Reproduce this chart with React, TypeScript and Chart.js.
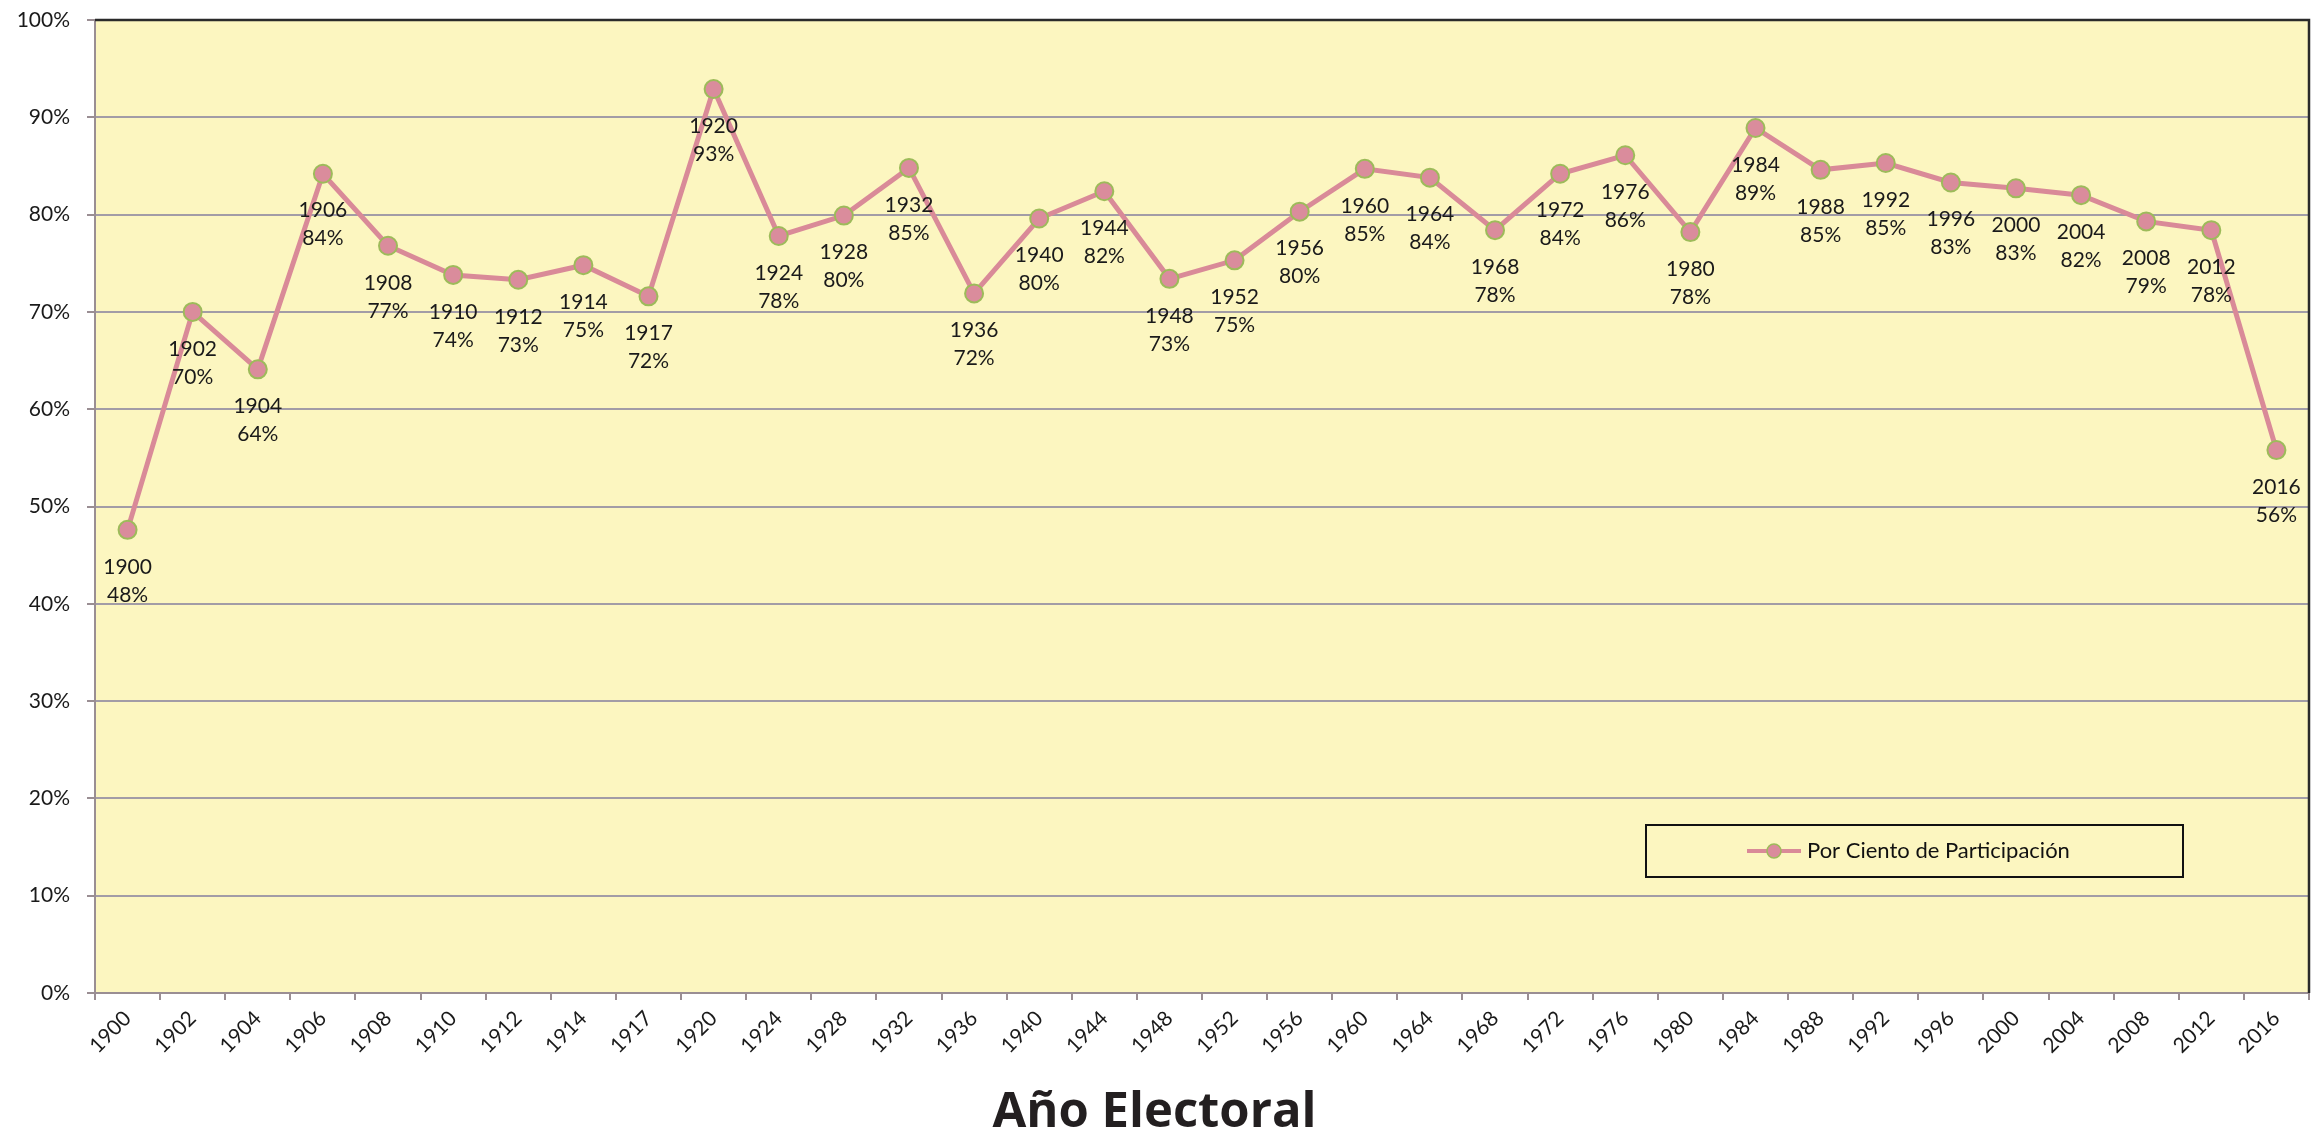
import React, { useEffect, useRef } from 'react';
import { Chart, registerables } from 'chart.js';

Chart.register(...registerables);

const years: string[] = [
  '1900', '1902', '1904', '1906', '1908', '1910', '1912', '1914', '1917', '1920',
  '1924', '1928', '1932', '1936', '1940', '1944', '1948', '1952', '1956', '1960',
  '1964', '1968', '1972', '1976', '1980', '1984', '1988', '1992', '1996', '2000',
  '2004', '2008', '2012', '2016',
];

const turnout: number[] = [
  47.6, 70.0, 64.1, 84.2, 76.8, 73.8, 73.3, 74.8, 71.6, 92.9,
  77.8, 79.9, 84.8, 71.9, 79.6, 82.4, 73.4, 75.3, 80.3, 84.7,
  83.8, 78.4, 84.2, 86.1, 78.2, 88.9, 84.6, 85.3, 83.3, 82.7,
  82.0, 79.3, 78.4, 55.8,
];

const seriesName = 'Por Ciento de Participación';
const axisTitle = 'Año Electoral';

const LINE = '#D98A98';
const POINT_FILL = '#DA8C9C';
const POINT_EDGE = '#9DBB5A';
const PLOT_BG = '#FCF6C0';
const GRID = '#A29CA6';
const AXIS = '#9A8E93';

const framePlugin = {
  id: 'frame',
  beforeDraw(chart: any) {
    const { ctx, chartArea: a } = chart;
    ctx.save();
    ctx.fillStyle = PLOT_BG;
    ctx.fillRect(a.left, a.top, a.right - a.left, a.bottom - a.top);
    ctx.restore();
  },
  afterDraw(chart: any) {
    const { ctx, chartArea: a } = chart;
    ctx.save();
    ctx.strokeStyle = '#2a2a2a';
    ctx.lineWidth = 2.5;
    ctx.beginPath();
    ctx.moveTo(a.left, a.top);
    ctx.lineTo(a.right, a.top);
    ctx.lineTo(a.right, a.bottom);
    ctx.stroke();
    ctx.restore();
  },
};

const pointLabelPlugin = {
  id: 'pointLabels',
  afterDatasetsDraw(chart: any) {
    const ctx = chart.ctx;
    const meta = chart.getDatasetMeta(0);
    const data = chart.data.datasets[0].data as number[];
    const labels = chart.data.labels as string[];
    ctx.save();
    ctx.font = '21px Lato';
    ctx.fillStyle = '#1a1a1a';
    ctx.textAlign = 'center';
    ctx.textBaseline = 'middle';
    meta.data.forEach((pt: any, i: number) => {
      const { x, y } = pt.getProps(['x', 'y'], true);
      ctx.fillText(labels[i], x, y + 37);
      ctx.fillText(Math.round(data[i]) + '%', x, y + 65);
    });
    ctx.restore();
  },
};

const legendPlugin = {
  id: 'boxLegend',
  afterDraw(chart: any) {
    const ctx = chart.ctx;
    const a = chart.chartArea;
    const bx = a.left + 1551;
    const by = a.top + 805;
    const bw = 537;
    const bh = 52;
    const cy = by + bh / 2;
    ctx.save();
    ctx.strokeStyle = '#111';
    ctx.lineWidth = 2;
    ctx.strokeRect(bx, by, bw, bh);
    ctx.strokeStyle = LINE;
    ctx.lineWidth = 4;
    ctx.beginPath();
    ctx.moveTo(bx + 101, cy);
    ctx.lineTo(bx + 155, cy);
    ctx.stroke();
    ctx.beginPath();
    ctx.arc(bx + 128, cy, 7, 0, Math.PI * 2);
    ctx.fillStyle = POINT_FILL;
    ctx.fill();
    ctx.strokeStyle = POINT_EDGE;
    ctx.lineWidth = 1.5;
    ctx.stroke();
    ctx.fillStyle = '#111';
    ctx.font = '22px Lato';
    ctx.textAlign = 'left';
    ctx.textBaseline = 'middle';
    ctx.fillText(chart.data.datasets[0].label, bx + 161, cy);
    ctx.restore();
  },
};

export default function App() {
  const ref = useRef<HTMLCanvasElement | null>(null);

  useEffect(() => {
    if (!ref.current) return;
    const chart = new Chart(ref.current, {
      type: 'line',
      data: {
        labels: years,
        datasets: [
          {
            label: seriesName,
            data: turnout,
            borderColor: LINE,
            borderWidth: 5,
            backgroundColor: POINT_FILL,
            pointBackgroundColor: POINT_FILL,
            pointBorderColor: POINT_EDGE,
            pointBorderWidth: 2,
            pointRadius: 9,
            tension: 0,
            fill: false,
          },
        ],
      },
      options: {
        responsive: false,
        animation: false,
        devicePixelRatio: 1,
        layout: { padding: { left: 0, right: 11, top: 20, bottom: 0 } },
        plugins: {
          legend: { display: false },
          tooltip: { enabled: false },
          title: {
            display: true,
            position: 'bottom',
            text: axisTitle,
            color: '#231f20',
            font: { family: 'Open Sans', size: 49, weight: 'bold', lineHeight: 0.8 },
            padding: { top: 0, bottom: 0 },
          },
        },
        scales: {
          x: {
            type: 'category',
            offset: true,
            grid: {
              display: true,
              drawOnChartArea: false,
              drawTicks: true,
              tickLength: 7,
              color: AXIS,
              lineWidth: 2,
              offset: true,
            },
            border: { display: true, color: AXIS, width: 2 },
            ticks: {
              autoSkip: false,
              maxRotation: 45,
              minRotation: 45,
              padding: 6,
              color: '#1a1a1a',
              font: { family: 'Lato', size: 21 },
            },
            afterFit: (scale: any) => {
              scale.height = 100.8;
            },
          },
          y: {
            min: 0,
            max: 100,
            ticks: {
              stepSize: 10,
              padding: 17,
              color: '#1a1a1a',
              font: { family: 'Lato', size: 21 },
              callback: (v: any) => `${v}%`,
            },
            grid: {
              color: GRID,
              lineWidth: 2,
              tickLength: 8,
              tickColor: AXIS,
            },
            border: { display: true, color: AXIS, width: 2 },
            afterFit: (scale: any) => {
              scale.width = 95;
              scale.paddingTop = 10;
              scale.paddingBottom = 10;
            },
          },
        },
      },
      plugins: [framePlugin, pointLabelPlugin, legendPlugin],
    });
    return () => chart.destroy();
  }, []);

  return (
    <div style={{ position: 'fixed', left: 0, top: 0, width: 2320, height: 1133, background: '#fff' }}>
      <canvas ref={ref} width={2320} height={1133} style={{ display: 'block' }} />
    </div>
  );
}
